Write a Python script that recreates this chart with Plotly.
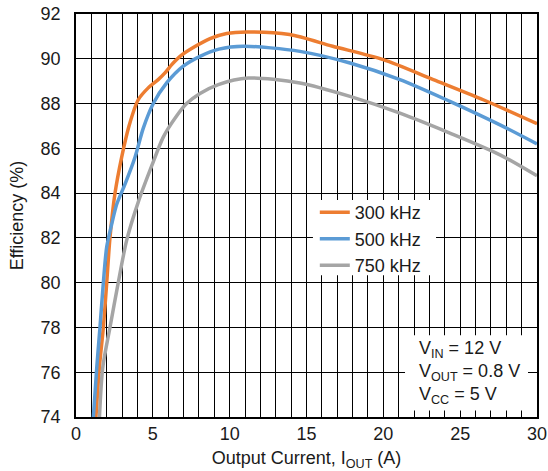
import plotly.graph_objects as go

# Data
x_300 = [1.25, 1.52, 1.78, 2.0, 2.21, 2.54, 2.97, 3.45, 4.05, 4.70, 5.35, 5.79, 6.23, 6.77, 7.63, 8.72, 9.80, 11.1, 13.9, 16.7, 20.0, 23.25, 26.5, 30]
y_300 = [73.5, 76.2, 78.0, 80.0, 82.0, 84.0, 85.6, 87.0, 88.17, 88.70, 89.07, 89.37, 89.74, 90.11, 90.5, 90.9, 91.13, 91.2, 91.08, 90.56, 89.96, 89.07, 88.17, 87.1]

x_500 = [1.08, 1.35, 1.56, 1.78, 2.0, 2.32, 2.65, 3.19, 3.84, 4.38, 5.03, 5.90, 6.98, 8.07, 9.3, 10.9, 14.57, 17.83, 21.08, 24.33, 27.59, 30]
y_500 = [73.5, 76.2, 78.0, 80.0, 81.6, 82.6, 83.5, 84.4, 85.6, 86.9, 88.0, 88.92, 89.67, 90.11, 90.43, 90.56, 90.33, 89.81, 89.07, 88.1, 87.05, 86.2]

x_750 = [1.5, 1.74, 2.21, 2.75, 3.30, 4.05, 4.92, 5.68, 6.5, 7.2, 8.07, 9.26, 11.2, 14.57, 17.83, 21.08, 24.33, 27.59, 30]
y_750 = [73.6, 76.2, 78.0, 80.0, 81.9, 83.6, 85.2, 86.5, 87.4, 88.0, 88.45, 88.85, 89.14, 88.92, 88.32, 87.57, 86.68, 85.71, 84.77]

series_names = ["300 kHz", "500 kHz", "750 kHz"]
series_colors = ["#ED7D31", "#5B9BD5", "#A5A5A5"]
series_x = [x_300, x_500, x_750]
series_y = [y_300, y_500, y_750]

x_ticks = [0, 5, 10, 15, 20, 25, 30]
y_ticks = [74, 76, 78, 80, 82, 84, 86, 88, 90, 92]

conditions = ["V<sub>IN</sub> = 12 V", "V<sub>OUT</sub> = 0.8 V", "V<sub>CC</sub> = 5 V"]

fig = go.Figure()
for name, xs, ys, col in zip(series_names, series_x, series_y, series_colors):
    fig.add_trace(go.Scatter(x=xs, y=ys, mode="lines", name=name,
                             line=dict(color=col, width=3.5, shape="spline", smoothing=0.8)))

font_family = "Liberation Sans, Arial, Helvetica, sans-serif"
txt_col = "#1a1a1a"
FS = 18
fig.update_layout(
    width=548, height=471,
    margin=dict(l=76, r=11, t=14, b=54),
    paper_bgcolor="white", plot_bgcolor="white",
    font=dict(family=font_family, size=FS, color=txt_col),
    showlegend=True,
    legend=dict(x=0.518, y=0.553, xanchor="left", yanchor="top",
                bgcolor="rgba(0,0,0,0)", borderwidth=0, font=dict(size=FS),
                itemwidth=30, tracegroupgap=0),
    xaxis=dict(range=[0, 30], tickvals=x_ticks, showgrid=False,
               ticks="", showline=True, linecolor="black", linewidth=1.5, mirror=True,
               zeroline=False, automargin=False, ticklabelstandoff=0,
               title=dict(text="Output Current, I<sub>OUT</sub> (A)", standoff=10, font=dict(size=FS)),
               minor=dict(dtick=1, showgrid=True, gridcolor="black", gridwidth=1.4),
               tickfont=dict(size=FS)),
    yaxis=dict(range=[74, 92], tickvals=y_ticks, showgrid=True, gridcolor="black", gridwidth=1.4,
               ticks="", showline=True, linecolor="black", linewidth=1.5, mirror=True,
               zeroline=False, automargin=False, ticklabelstandoff=10,
               title=dict(text="Efficiency (%)", standoff=12, font=dict(size=FS)),
               tickfont=dict(size=FS)),
)

# white backgrounds behind legend and condition box (covering the grid)
fig.add_shape(type="rect", xref="paper", yref="paper", x0=0.514, x1=0.781, y0=0.352, y1=0.5386,
              fillcolor="white", line=dict(width=0), layer="above")
fig.add_shape(type="rect", xref="paper", yref="paper", x0=0.7137, x1=0.9805, y0=0.016, y1=0.2027,
              fillcolor="white", line=dict(width=0), layer="above")

cond_y = [0.168, 0.1107, 0.0535]
for t, yy in zip(conditions, cond_y):
    fig.add_annotation(xref="paper", yref="paper", x=0.7397, y=yy, xanchor="left", yanchor="middle",
                       text=t, showarrow=False, align="left",
                       font=dict(size=FS, family=font_family, color=txt_col))

fig.write_html("out.html", config={"displayModeBar": False},
               post_script="document.body.style.margin='0';")
